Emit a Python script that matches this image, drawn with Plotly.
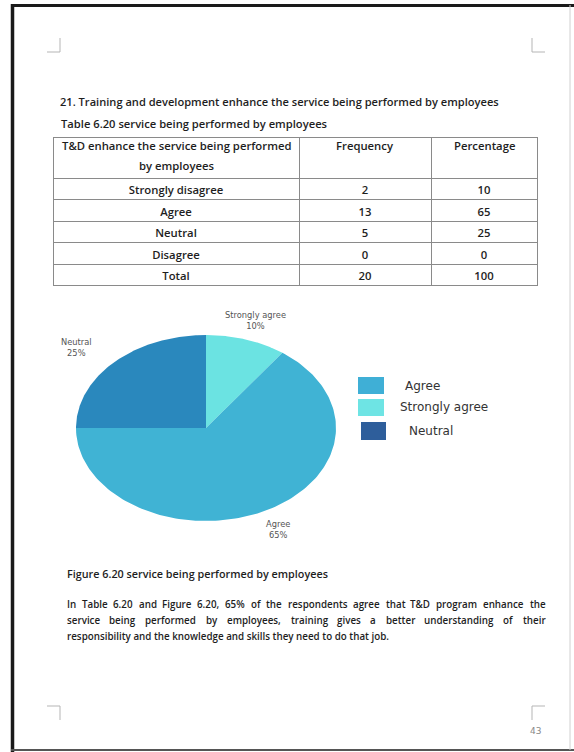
import numpy as np
import plotly.graph_objects as go

W, H = 574, 752

# ---------------- data ----------------
table_header = ["T&D enhance the service being performed", "by employees", "Frequency", "Percentage"]
table_categories = ["Strongly disagree", "Agree", "Neutral", "Disagree", "Total"]
frequency = [2, 13, 5, 0, 20]
percentage = [10, 65, 25, 0, 100]

pie_labels = ["Strongly agree", "Agree", "Neutral"]   # clockwise from 12 o'clock
pie_values = [10, 65, 25]
pie_colors = ["#6BE3E2", "#40B3D4", "#2A88BD"]

legend_labels = ["Agree", "Strongly agree", "Neutral"]
legend_colors = ["#3FAFD6", "#6EE4E4", "#2E5E9B"]

title_text = "21. Training and development enhance the service being performed by employees"
table_title = "Table 6.20 service being performed by employees"
fig_caption = "Figure 6.20 service being performed by employees"
para_lines = [
    "In Table 6.20 and Figure 6.20, 65% of the respondents agree that T&D program enhance the",
    "service being performed by employees, training gives a better understanding of their",
    "responsibility and the knowledge and skills they need to do that job.",
]
page_number = "43"

FONT = "Open Sans"
TXT = "#1e1e1e"


def px(x):
    return x / W


def py(y):
    return 1 - y / H


fig = go.Figure()


def txt(x, y, s, size, weight=600, color=TXT, anchor="left", family=FONT):
    fig.add_annotation(x=px(x), y=py(y), xref="paper", yref="paper", text=s,
                       showarrow=False, xanchor=anchor, yanchor="middle",
                       font=dict(family=family, size=size, color=color, weight=weight))


# ---------------- table ----------------
TABLE_FONT = 11.3
fig.add_trace(go.Table(
    domain=dict(x=[px(53), px(537)], y=[py(292), py(137)]),
    columnwidth=[246, 132, 106],
    header=dict(
        values=["", "", ""],
        align="center",
        height=41,
        fill_color="white",
        line=dict(color="#8a8a8a", width=1),
        font=dict(family=FONT, size=TABLE_FONT, color=TXT, weight=600),
    ),
    cells=dict(
        values=[table_categories, frequency, percentage],
        align="center",
        height=21.5,
        fill_color="white",
        line=dict(color="#8a8a8a", width=1),
        font=dict(family=FONT, size=TABLE_FONT, color=TXT, weight=600),
    ),
))
# header texts (two-line header with the document's wide line spacing)
txt(176, 145, table_header[0], TABLE_FONT, anchor="center")
txt(176, 165, table_header[1], TABLE_FONT, anchor="center")
txt(365, 145, table_header[2], TABLE_FONT, anchor="center")
txt(484, 145, table_header[3], TABLE_FONT, anchor="center")

# ---------------- pie (stretched axis, slices computed from values) ----------------
vals = np.array(pie_values, dtype=float)
fracs = vals / vals.sum()
start = 0.0
label_pos = []
for lab, f, col in zip(pie_labels, fracs, pie_colors):
    end = start + f * 2 * np.pi
    t = np.linspace(start, end, 160)
    xs = np.concatenate([[0], np.sin(t), [0]])
    ys = np.concatenate([[0], np.cos(t), [0]])
    fig.add_trace(go.Scatter(
        x=xs, y=ys, mode="lines", fill="toself", fillcolor=col,
        line=dict(width=0, color=col), hoverinfo="text",
        text=f"{lab} {f*100:.0f}%", showlegend=False,
        xaxis="x", yaxis="y",
    ))
    label_pos.append((lab, f, (start + end) / 2))
    start = end

for lab, f, mid in label_pos:
    r = 1.22
    sx, sy = np.sin(mid), np.cos(mid)
    anchor = "right" if sx < -0.5 else "center"
    fig.add_annotation(
        x=r * sx, y=r * sy, xref="x", yref="y",
        text=f"{lab}<br>{f*100:.0f}%", showarrow=False, xanchor=anchor,
        font=dict(family="DejaVu Sans", size=8.3, color="#555555"),
        align="center",
    )

# center (206, 428) px; radii 130 x 93 px
fig.update_layout(
    xaxis=dict(domain=[px(11), px(401)], range=[-1.5, 1.5], visible=False, fixedrange=True),
    yaxis=dict(domain=[py(567.5), py(288.5)], range=[-1.5, 1.5], visible=False, fixedrange=True),
)

# ---------------- legend (custom) ----------------
shapes = []
leg_rows = [(377, 394), (399, 416), (422, 440)]
leg_x = [(358, 384), (358, 384), (361, 386)]
leg_text_x = [403, 398, 407]
for (y0, y1), (x0, x1), col in zip(leg_rows, leg_x, legend_colors):
    shapes.append(dict(type="rect", xref="paper", yref="paper",
                       x0=px(x0), x1=px(x1), y0=py(y1), y1=py(y0),
                       fillcolor=col, line=dict(width=0)))
for lab, (y0, y1), tx in zip(legend_labels, leg_rows, leg_text_x):
    fig.add_annotation(x=px(tx), y=py((y0 + y1) / 2), xref="paper", yref="paper",
                       text=lab, showarrow=False, xanchor="left", yanchor="middle",
                       font=dict(family="DejaVu Sans", size=12, color="#333333"))

# ---------------- page frame and corner marks ----------------
shapes += [
    dict(type="line", xref="paper", yref="paper", x0=px(12.5), x1=px(12.5), y0=py(4), y1=py(752),
         line=dict(color="#1a1a1a", width=3.5)),
    dict(type="line", xref="paper", yref="paper", x0=px(11), x1=px(574), y0=py(5.5), y1=py(5.5),
         line=dict(color="#1a1a1a", width=3)),
    dict(type="line", xref="paper", yref="paper", x0=px(11), x1=px(574), y0=py(750), y1=py(750),
         line=dict(color="#555555", width=2)),
    dict(type="line", xref="paper", yref="paper", x0=px(570), x1=px(570), y0=py(5), y1=py(750),
         line=dict(color="#d0d0d0", width=1)),
]
grey = dict(color="#b5b5b5", width=1)
for (vx, hx0, hx1, vy0, vy1, hy) in [
    (60, 47, 60, 38, 52, 52),
    (532, 532, 545, 38, 52, 52),
    (60, 47, 60, 706, 720, 706),
    (532, 532, 545, 706, 720, 706),
]:
    shapes.append(dict(type="line", xref="paper", yref="paper", x0=px(vx), x1=px(vx),
                       y0=py(vy0), y1=py(vy1), line=grey))
    shapes.append(dict(type="line", xref="paper", yref="paper", x0=px(hx0), x1=px(hx1),
                       y0=py(hy), y1=py(hy), line=grey))

# ---------------- texts ----------------
# approximate Open Sans advance widths (em) for justifying paragraph lines
CW = {" ": .26, "a": .556, "b": .613, "c": .476, "d": .613, "e": .561, "f": .339, "g": .548,
      "h": .614, "i": .253, "j": .253, "k": .525, "l": .253, "m": .93, "n": .614, "o": .604,
      "p": .613, "q": .613, "r": .408, "s": .477, "t": .353, "u": .614, "v": .501, "w": .778,
      "x": .522, "y": .502, "z": .464, ",": .245, ".": .266, "%": .828, "&": .758,
      "T": .536, "D": .716, "I": .303, "F": .497, "P": .583}
K_SEMI = 1.034


def width_of(s, size):
    return sum(CW.get(c, 0.57) for c in s) * size * K_SEMI


def justified(x0, x1, y, line, size):
    words = line.split(" ")
    wsum = sum(width_of(w, size) for w in words)
    gap = (x1 - x0 - wsum) / (len(words) - 1)
    x = x0
    for w in words:
        txt(x, y, w, size)
        x += width_of(w, size) + gap


PARA = 9.8
txt(58, 102, title_text, 11.1)
txt(59, 123, table_title, 11.2)
txt(65, 573, fig_caption, 10.8)
justified(64.5, 543, 604, para_lines[0], PARA)
justified(64.5, 543, 620, para_lines[1], PARA)
txt(65, 636, para_lines[2], PARA)
txt(535, 731, page_number, 9, weight=400, color="#888888", family="DejaVu Sans", anchor="center")

fig.update_layout(
    width=W, height=H,
    margin=dict(l=0, r=0, t=0, b=0),
    paper_bgcolor="white", plot_bgcolor="white",
    shapes=shapes,
    showlegend=False,
)

fig.write_html("out.html")
